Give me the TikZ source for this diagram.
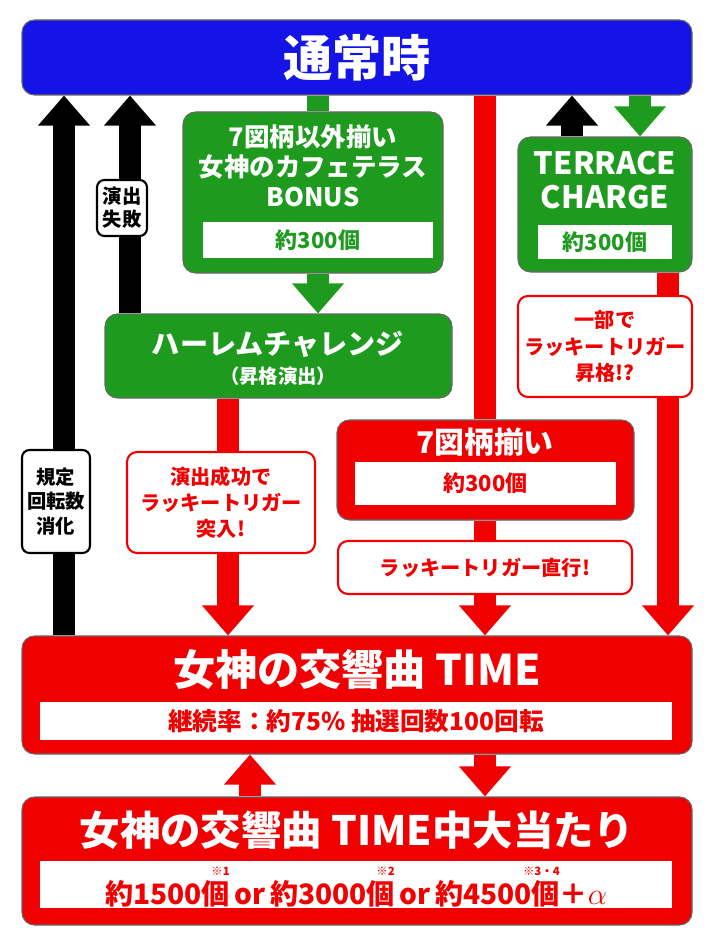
\documentclass[tikz,border=0pt]{standalone}
\usepackage{fontspec}
\setmainfont{Noto Sans CJK JP}
\usepackage{tikz}
\usetikzlibrary{arrows.meta, positioning, fit}
\definecolor{tblue}{HTML}{1414E6}
\definecolor{tgreen}{HTML}{1E9B1E}
\definecolor{tred}{HTML}{F00000}
\newcommand{\note}[1]{\llap{\raisebox{1.85ex}{\fontsize{6.5}{7}\selectfont #1}}}

\begin{document}
\begin{tikzpicture}[
    x=0.02cm, y=-0.02cm,
    panel/.style={draw=black!60, line width=0.6pt, rounded corners=0.25cm, inner sep=0pt},
    inbox/.style={fill=white, inner sep=0pt},
    title/.style={text=white, font=\bfseries, align=center, inner sep=0pt},
    value/.style={font=\bfseries, align=center, inner sep=0pt},
    callred/.style={draw=tred, line width=1.2pt, fill=white, rounded corners=0.2cm, inner sep=0pt},
    callblk/.style={draw=black, line width=1.2pt, fill=white, rounded corners=0.15cm, inner sep=0pt},
    blockarr/.style={line width=0.44cm, -{Triangle[width=1cm, length=0.6cm]}},
    shaft/.style={line width=0.44cm}
]
\useasboundingbox (0,0) rectangle (712,946);

% Boxes
\node[panel, fill=tblue, fit={(22,20)(692,95)}] (normal) {};
\node[title, font=\bfseries\fontsize{28}{30}\selectfont] at (357,58) {通常時};

\node[panel, fill=tgreen, fit={(183,112)(443,273)}] (bonus) {};
\node[title, font=\bfseries\fontsize{14.5}{17}\selectfont] at (313,166) {7図柄以外揃い\\女神のカフェテラス\\BONUS};
\node[inbox, fit={(203,222)(433,258)}] (bonusin) {};
\node[value, text=tgreen, font=\bfseries\fontsize{12.5}{14}\selectfont] at (bonusin) {約300個};

\node[panel, fill=tgreen, fit={(518,137)(692,272)}] (terrace) {};
\node[title, font=\bfseries\fontsize{17.5}{19}\selectfont] at (605,180) {TERRACE\\CHARGE};
\node[inbox, fit={(538,225)(672,259)}] (terracein) {};
\node[value, text=tgreen, font=\bfseries\fontsize{12.5}{14}\selectfont] at (terracein) {約300個};

\node[panel, fill=tgreen, fit={(105,314)(452,398)}] (harem) {};
\node[title, font=\bfseries\fontsize{16}{18}\selectfont] at (278,344) {ハーレムチャレンジ};
\node[title, font=\bfseries\fontsize{11}{13}\selectfont] at (278,376) {（昇格演出）};

\node[panel, fill=tred, fit={(337,420)(634,520)}] (seven) {};
\node[title, font=\bfseries\fontsize{17}{19}\selectfont] at (485,442) {7図柄揃い};
\node[inbox, fit={(355,462)(616,505)}] (sevenin) {};
\node[value, text=tred, font=\bfseries\fontsize{12.5}{14}\selectfont] at (sevenin) {約300個};

\node[panel, fill=tred, fit={(22,636)(692,754)}] (time) {};
\node[title, font=\bfseries\fontsize{24}{26}\selectfont] at (357,670) {女神の交響曲 TIME};
\node[inbox, fit={(40,702)(672,740)}] (timein) {};
\node[value, text=tred, font=\bfseries\fontsize{14}{16}\selectfont] at (timein) {継続率：約75\%\ 抽選回数100回転};

\node[panel, fill=tred, fit={(22,797)(692,925)}] (hit) {};
\node[title, font=\bfseries\fontsize{23}{26}\selectfont] at (357,830) {女神の交響曲 TIME中大当たり};
\node[inbox, fit={(40,861)(672,908)}] (hitin) {};
\node[value, text=tred, font=\bfseries\fontsize{16}{18}\selectfont] at ([yshift=-0.05cm]hitin) {約1500個\note{※1}\,or\,約3000個\note{※2}\,or\,約4500個\note{※3・4}＋$\alpha$};

% Column coordinates
\coordinate (c64) at (64,0);
\coordinate (c130) at (130,0);
\coordinate (c228) at (228,0);
\coordinate (c250) at (250,0);
\coordinate (c318) at (318,0);
\coordinate (c485) at (485,0);
\coordinate (c572) at (572,0);
\coordinate (c640) at (640,0);
\coordinate (c668) at (668,0);

% Arrows
\draw[blockarr, black] (time.north -| c64) -- (normal.south -| c64);
\draw[blockarr, black] (harem.north -| c130) -- (normal.south -| c130);
\draw[blockarr, black] (terrace.north -| c572) -- (normal.south -| c572);
\draw[shaft, tgreen] (normal.south -| c318) -- (bonus.north -| c318);
\draw[blockarr, tgreen] (bonus.south -| c318) -- (harem.north -| c318);
\draw[blockarr, tgreen] (normal.south -| c640) -- (terrace.north -| c640);
\draw[shaft, tred] (normal.south -| c485) -- (seven.north -| c485);
\draw[blockarr, tred] (seven.south -| c485) -- (time.north -| c485);
\draw[blockarr, tred] (harem.south -| c228) -- (time.north -| c228);
\draw[blockarr, tred] (terrace.south -| c668) -- (time.north -| c668);
\draw[blockarr, tred] (hit.north -| c250) -- (time.south -| c250);
\draw[blockarr, tred] (time.south -| c485) -- (hit.north -| c485);

% Callouts
\node[callblk, fit={(97,180)(147,236)}] (fail) {};
\node[value, font=\bfseries\fontsize{11}{13}\selectfont] at (fail) {演出\\失敗};
\node[callblk, fit={(22,450)(90,553)}] (spin) {};
\node[value, font=\bfseries\fontsize{11}{14}\selectfont] at (spin) {規定\\回転数\\消化};
\node[callred, fit={(127,452)(315,553)}] (success) {};
\node[value, text=tred, font=\bfseries\fontsize{11.5}{15}\selectfont] at (success) {演出成功で\\ラッキートリガー\\突入!};
\node[callred, fit={(338,541)(632,594)}] (direct) {};
\node[value, text=tred, font=\bfseries\fontsize{11.5}{14}\selectfont] at (direct) {ラッキートリガー直行!};
\node[callred, fit={(518,296)(692,397)}] (upgrade) {};
\node[value, text=tred, font=\bfseries\fontsize{11.5}{15}\selectfont] at (upgrade) {一部で\\ラッキートリガー\\昇格!?};
\end{tikzpicture}
\end{document}
